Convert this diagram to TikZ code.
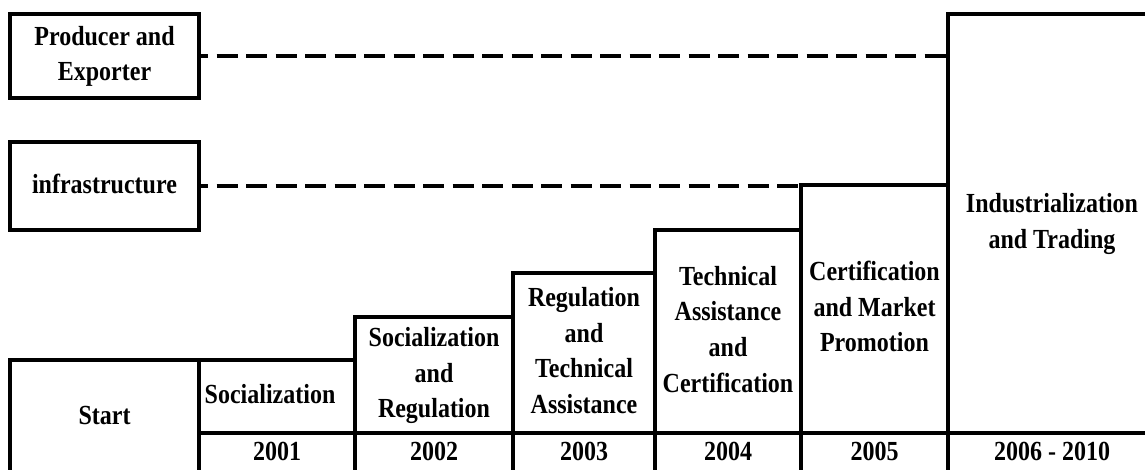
\documentclass[tikz,border=0pt]{standalone}
\usepackage{fontspec}
\setmainfont{Liberation Serif}
\usepackage{graphicx}
\newcommand\vtxt[1]{\scalebox{1}[1.15]{\begin{tabular}{@{}c@{}}#1\end{tabular}}}
\begin{document}
\begin{tikzpicture}[x=1pt,y=-1pt,
  cell/.style={rectangle, draw, line width=4pt, inner sep=0pt, outer sep=0pt,
    font=\fontsize{24}{31}\bfseries\selectfont},
  dashline/.style={line width=4.5pt, dash pattern=on 21pt off 8.5pt, dash phase=12pt}]
\fill[white] (0,0) rectangle (1145,470);
\useasboundingbox (0,0) rectangle (1145,470);
\clip (0,0) rectangle (1145,470);
% left boxes
\node[cell, minimum width=189pt, minimum height=84pt] (prod) at (104.5,56) {\vtxt{Producer and\\Exporter}};
\node[cell, minimum width=189pt, minimum height=88pt] (infra) at (104.5,186) {\vtxt{infrastructure}};
% staircase
\node[cell, minimum width=189pt, minimum height=114pt] (start) at (104.5,417) {\vtxt{Start}};
\node[cell, minimum width=156pt, minimum height=73pt] (soc) at (277,396.5) {\vtxt{Socialization\hspace*{14pt}}};
\node[cell, minimum width=158pt, minimum height=116pt] (socreg) at (434,375) {\vtxt{Socialization\\and\\Regulation}};
\node[cell, minimum width=142pt, minimum height=160pt] (regta) at (584,353) {\vtxt{Regulation\\and\\Technical\\Assistance}};
\node[cell, minimum width=146pt, minimum height=203pt] (tacert) at (728,331.5) {\vtxt{Technical\\Assistance\\and\\Certification}};
\node[cell, minimum width=147pt, minimum height=248pt] (certmkt) at (874.5,309) {\vtxt{Certification\\and Market\\Promotion}};
\node[cell, minimum width=208pt, minimum height=419pt] (ind) at (1052,223.5) {\vtxt{Industrialization\\and Trading}};
% years
\node[cell, minimum width=156pt, minimum height=41pt] (y1) at (277,453.5) {\vtxt{2001}};
\node[cell, minimum width=158pt, minimum height=41pt] (y2) at (434,453.5) {\vtxt{2002}};
\node[cell, minimum width=142pt, minimum height=41pt] (y3) at (584,453.5) {\vtxt{2003}};
\node[cell, minimum width=146pt, minimum height=41pt] (y4) at (728,453.5) {\vtxt{2004}};
\node[cell, minimum width=147pt, minimum height=41pt] (y5) at (874.5,453.5) {\vtxt{2005}};
\node[cell, minimum width=208pt, minimum height=41pt] (y6) at (1052,453.5) {\vtxt{2006 - 2010}};
% dashed connectors
\draw[dashline] (prod.east) -- (prod.east -| ind.west);
\draw[dashline] (infra.east) -- (infra.east -| certmkt.west);
\end{tikzpicture}
\end{document}
